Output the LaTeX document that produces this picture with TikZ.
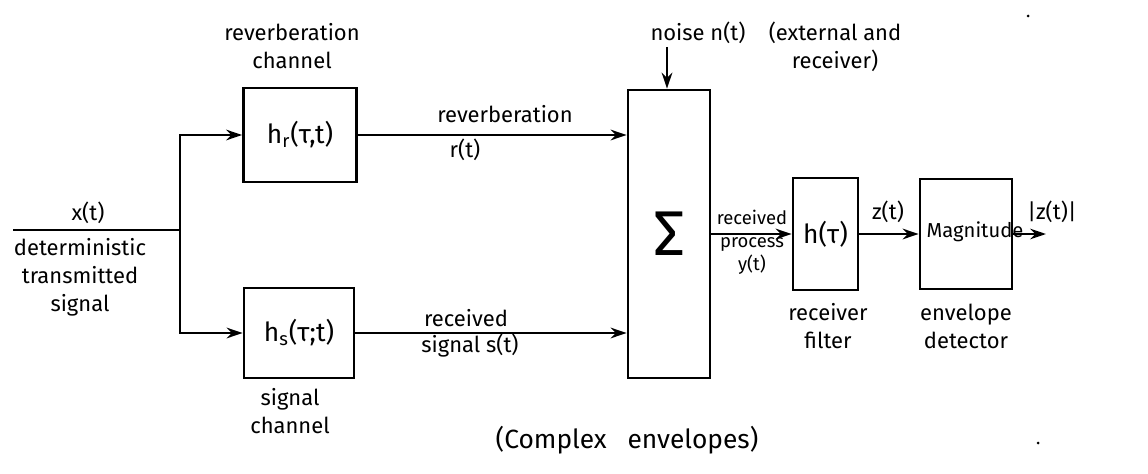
\documentclass[tikz,border=0pt]{standalone}
\usepackage{fontspec}
\setmainfont{Fira Sans}
\usetikzlibrary{arrows.meta}
\begin{document}
\begin{tikzpicture}[x=0.02cm,y=-0.02cm,
  box/.style={draw,line width=1.6pt,inner sep=0pt},
  lbl/.style={font=\fontsize{12.5}{16}\selectfont,align=center,inner sep=0pt},
  small/.style={font=\fontsize{10.5}{13}\selectfont,align=center,inner sep=0pt},
  boxtxt/.style={font=\fontsize{15}{18}\selectfont},
  arr/.style={line width=1.6pt,-{Stealth[length=9pt,width=6pt]}},
  wire/.style={line width=1.6pt}]
\useasboundingbox (0,0) rectangle (1148,473);
% blocks
\node[box,boxtxt,minimum width=2.26cm,minimum height=1.88cm] (hr) at (300,135) {h\textsubscript{r}(τ,t)};
\node[box,boxtxt,minimum width=2.2cm,minimum height=1.8cm] (hs) at (299,333) {h\textsubscript{s}(τ;t)};
\node[box,font=\fontsize{36}{40}\selectfont,minimum width=1.64cm,minimum height=5.76cm] (sum) at (669,234) {Σ};
\node[box,boxtxt,minimum width=1.3cm,minimum height=2.24cm] (filt) at (825.5,234) {h(τ)};
\node[box,minimum width=1.84cm,minimum height=2.2cm] (mag) at (966,234) {};
\node[small,font=\fontsize{11.5}{13}\selectfont] (magt) at (975,232) {Magnitude};
% coordinates
\coordinate (xin) at (13,230);
\coordinate (j) at (180,230);
\coordinate (nz) at (667,47);
\coordinate (out) at (1046,234);
% connectors
\draw[wire] (xin) -- (j);
\draw[arr] (j) |- (hr.west);
\draw[arr] (j) |- (hs.west);
\draw[arr] (hr.east) -- (hr.east -| sum.west);
\draw[arr] (hs.east) -- (hs.east -| sum.west);
\draw[arr] (nz) -- (nz |- sum.north);
\draw[arr] (sum.east |- filt.west) -- (filt.west);
\draw[arr] (filt.east) -- (mag.west);
\draw[arr] (mag.east) -- (out);
% labels
\node[lbl] (rct) at (292,46) {reverberation\\channel};
\node[lbl] (xt) at (88,213) {x(t)};
\node[lbl] (dts) at (80,277) {deterministic\\transmitted\\signal};
\node[lbl] (sch) at (290,411) {signal\\channel};
\node[lbl] (rv) at (505,114) {reverberation};
\node[lbl] (rt) at (465,150) {r(t)};
\node[lbl] (rc) at (466,318) {received};
\node[lbl] (sst) at (470,346) {signal s(t)};
\node[lbl] (nlab) at (698,33) {noise n(t)};
\node[lbl] (ext) at (835,47) {(external and\\receiver)};
\node[small] (rp) at (752,242) {received\\process\\y(t)};
\node[lbl] (zt) at (888,212) {z(t)};
\node[lbl] (azt) at (1052,212) {|z(t)|};
\node[lbl] (rf) at (828,326) {receiver\\filter};
\node[lbl] (ed) at (966,326) {envelope\\detector};
\node[lbl,font=\fontsize{15}{18}\selectfont] (ce) at (627,440) {(Complex\ \ \ envelopes)};
\fill (1028,16) circle (1.5);
\fill (1038,443) circle (1.5);
\end{tikzpicture}
\end{document}
